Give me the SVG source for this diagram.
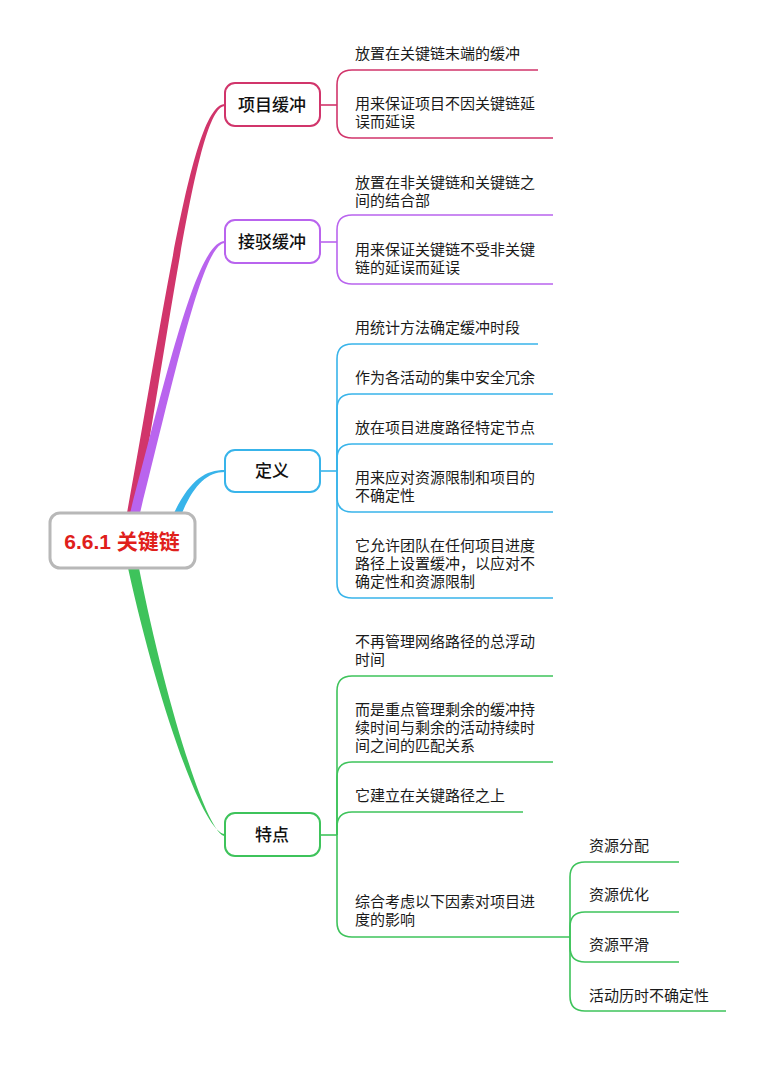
<svg xmlns="http://www.w3.org/2000/svg" width="776" height="1082" viewBox="0 0 776 1082">
<style>
.t{font-family:"Liberation Sans","Noto Sans CJK SC",sans-serif;font-size:15px;fill:#1a1a1a;dominant-baseline:central}
.n{font-family:"Liberation Sans","Noto Sans CJK SC",sans-serif;font-size:17px;font-weight:500;fill:#111;text-anchor:middle;dominant-baseline:central}
.r{font-family:"Liberation Sans","Noto Sans CJK SC",sans-serif;font-size:21px;font-weight:bold;fill:#e0201b;text-anchor:middle;dominant-baseline:central}
.nb{fill:#fff;stroke-width:2}
.c{fill:none;stroke-width:1.6}
.pk{stroke:#d1356b}.pu{stroke:#b964ee}.bl{stroke:#38b4ea}.gr{stroke:#3ec35b}
</style>
<rect width="776" height="1082" fill="#fff"/>
<g id="connectors">
<path d="M127 513 C166 300 192 104 225 104 L225 106 C198 106 174 300 137 513 Z" fill="#d1356b"/>
<path d="M130 513 C168 370 197 241 225 241 L225 243 C203 243 176 370 140 513 Z" fill="#b964ee"/>
<path d="M174 513 C190 480 205 470 225 470 L225 472 C207 472 194 485 182 513 Z" fill="#38b4ea"/>
<path d="M128 568 C157 700 203 834 225 834 L225 836 C207 836 165 700 139 568 Z" fill="#3ec35b"/>
<g class="c pk">
<path d="M320 105 H337"/>
<path d="M337 105 V85 Q337 70 352 70 H538"/>
<path d="M337 105 V123 Q337 138 352 138 H553"/>
</g>
<g class="c pu">
<path d="M320 242 H337"/>
<path d="M337 242 V230 Q337 215 352 215 H553"/>
<path d="M337 242 V269 Q337 284 352 284 H553"/>
</g>
<g class="c bl">
<path d="M320 471 H337"/>
<path d="M337 471 V359 Q337 344 352 344 H538"/>
<path d="M337 471 V409 Q337 394 352 394 H553"/>
<path d="M337 471 V459 Q337 444 352 444 H553"/>
<path d="M337 471 V497 Q337 512 352 512 H553"/>
<path d="M337 471 V583 Q337 598 352 598 H553"/>
</g>
<g class="c gr">
<path d="M320 835 H337"/>
<path d="M337 835 V691 Q337 676 352 676 H553"/>
<path d="M337 835 V777 Q337 762 352 762 H553"/>
<path d="M337 835 V827 Q337 812 352 812 H523"/>
<path d="M337 835 V922 Q337 937 352 937 H570"/>
<path d="M570 937 V877 Q570 862 585 862 H679"/>
<path d="M570 937 V927 Q570 912 585 912 H679"/>
<path d="M570 937 V947 Q570 962 585 962 H679"/>
<path d="M570 937 V996 Q570 1011 585 1011 H726"/>
</g>
</g>
<g id="root"><rect x="50" y="513" width="145" height="55" rx="10" fill="#fff" stroke="#b8b8b8" stroke-width="3"/><text class="r" x="122" y="541">6.6.1 关键链</text></g>
<g id="n1"><rect class="nb pk" x="225" y="83" width="95" height="43" rx="10"/><text class="n" x="272" y="105">项目缓冲</text></g>
<g id="n2"><rect class="nb pu" x="225" y="220" width="95" height="43" rx="10"/><text class="n" x="272" y="242">接驳缓冲</text></g>
<g id="n3"><rect class="nb bl" x="225" y="450" width="95" height="42" rx="10"/><text class="n" x="272" y="471">定义</text></g>
<g id="n4"><rect class="nb gr" x="225" y="813" width="95" height="43" rx="10"/><text class="n" x="272" y="835">特点</text></g>
<g id="c1"><text class="t" x="355" y="53">放置在关键链末端的缓冲</text></g>
<g id="c2"><text class="t"><tspan x="355" y="103">用来保证项目不因关键链延</tspan><tspan x="355" y="121">误而延误</tspan></text></g>
<g id="c3"><text class="t"><tspan x="355" y="182">放置在非关键链和关键链之</tspan><tspan x="355" y="200">间的结合部</tspan></text></g>
<g id="c4"><text class="t"><tspan x="355" y="249">用来保证关键链不受非关键</tspan><tspan x="355" y="267">链的延误而延误</tspan></text></g>
<g id="c5"><text class="t" x="355" y="327">用统计方法确定缓冲时段</text></g>
<g id="c6"><text class="t" x="355" y="377">作为各活动的集中安全冗余</text></g>
<g id="c7"><text class="t" x="355" y="427">放在项目进度路径特定节点</text></g>
<g id="c8"><text class="t"><tspan x="355" y="477">用来应对资源限制和项目的</tspan><tspan x="355" y="495">不确定性</tspan></text></g>
<g id="c9"><text class="t"><tspan x="355" y="545">它允许团队在任何项目进度</tspan><tspan x="355" y="563">路径上设置缓冲，以应对不</tspan><tspan x="355" y="581">确定性和资源限制</tspan></text></g>
<g id="c10"><text class="t"><tspan x="355" y="641">不再管理网络路径的总浮动</tspan><tspan x="355" y="659">时间</tspan></text></g>
<g id="c11"><text class="t"><tspan x="355" y="709">而是重点管理剩余的缓冲持</tspan><tspan x="355" y="727">续时间与剩余的活动持续时</tspan><tspan x="355" y="745">间之间的匹配关系</tspan></text></g>
<g id="c12"><text class="t" x="355" y="795">它建立在关键路径之上</text></g>
<g id="c13"><text class="t"><tspan x="355" y="901">综合考虑以下因素对项目进</tspan><tspan x="355" y="919">度的影响</tspan></text></g>
<g id="s1"><text class="t" x="589" y="845">资源分配</text></g>
<g id="s2"><text class="t" x="589" y="894">资源优化</text></g>
<g id="s3"><text class="t" x="589" y="944">资源平滑</text></g>
<g id="s4"><text class="t" x="589" y="995">活动历时不确定性</text></g>
</svg>
